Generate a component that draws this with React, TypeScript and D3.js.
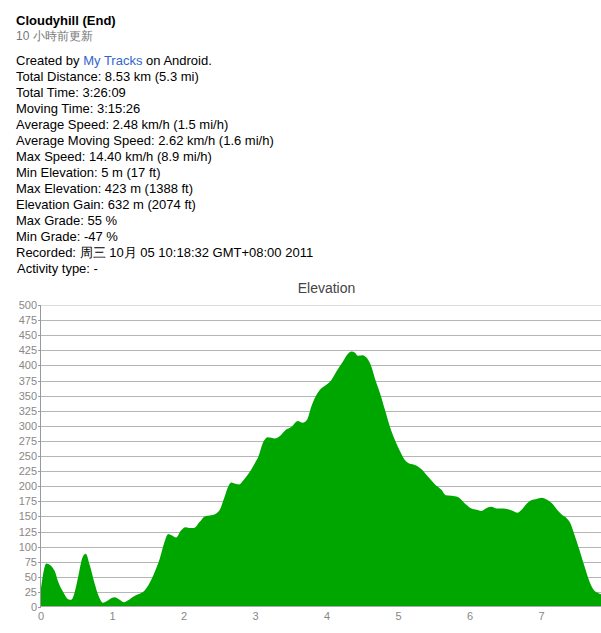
import React from "react";
import * as d3 from "d3";

const infoLines: string[] = [
  "Total Distance: 8.53 km (5.3 mi)",
  "Total Time: 3:26:09",
  "Moving Time: 3:15:26",
  "Average Speed: 2.48 km/h (1.5 mi/h)",
  "Average Moving Speed: 2.62 km/h (1.6 mi/h)",
  "Max Speed: 14.40 km/h (8.9 mi/h)",
  "Min Elevation: 5 m (17 ft)",
  "Max Elevation: 423 m (1388 ft)",
  "Elevation Gain: 632 m (2074 ft)",
  "Max Grade: 55 %",
  "Min Grade: -47 %",
  "Recorded: 周三 10月 05 10:18:32 GMT+08:00 2011",
  "Activity type: -",
];

const distanceKm: number[] = [
  0, 0.075, 0.19, 0.24, 0.31, 0.38, 0.42, 0.46, 0.52, 0.58, 0.625, 0.68, 0.75, 0.8, 0.87, 0.91, 0.96,
  1.03, 1.1, 1.16, 1.22, 1.29, 1.36, 1.4, 1.46, 1.52, 1.59, 1.66, 1.72, 1.78, 1.82, 1.89, 1.96, 2.02,
  2.07, 2.14, 2.22, 2.29, 2.38, 2.45, 2.5, 2.56, 2.62, 2.66, 2.72, 2.77, 2.83, 2.92, 2.99, 3.04, 3.1,
  3.17, 3.27, 3.34, 3.42, 3.5, 3.59, 3.66, 3.72, 3.78, 3.85, 3.91, 3.99, 4.06, 4.13, 4.22, 4.29, 4.34,
  4.39, 4.43, 4.5, 4.55, 4.61, 4.67, 4.74, 4.81, 4.88, 4.95, 5.02, 5.09, 5.13, 5.23, 5.32, 5.41, 5.51,
  5.6, 5.66, 5.74, 5.83, 5.93, 6.02, 6.09, 6.16, 6.23, 6.3, 6.37, 6.46, 6.53, 6.6, 6.66, 6.72, 6.79,
  6.86, 6.93, 7.0, 7.07, 7.14, 7.21, 7.28, 7.35, 7.4, 7.46, 7.53, 7.6, 7.67, 7.73, 7.79, 7.86,
];

const elevationM: number[] = [
  32, 72, 60, 42, 25, 13, 12, 20, 50, 82, 88, 70, 39, 20, 7, 9, 13,
  16, 12, 8, 11, 17, 21, 23, 29, 40, 58, 80, 105, 121, 119, 115, 127, 132,
  131, 131, 141, 150, 152, 155, 161, 180, 200, 206, 204, 203, 210, 224, 238, 249, 271,
  281, 279, 283, 293, 298, 308, 305, 310, 332, 351, 361, 368, 376, 390, 406, 419, 423,
  421, 416, 417, 413, 401, 378, 354, 326, 298, 276, 258, 243, 239, 235, 228, 216, 203,
  194, 185, 184, 182, 171, 163, 161, 159, 164, 166, 163, 163, 162, 159, 156, 161, 171,
  177, 179, 181, 178, 172, 162, 153, 147, 139, 119, 94, 67, 42, 28, 23, 20,
];

const yTicks: number[] = d3.range(0, 501, 25);
const xTicks: number[] = [0, 1, 2, 3, 4, 5, 6, 7];

const W = 601;
const H = 633;
const FONT = "Arial, 'Liberation Sans', sans-serif";

export default function App() {
  const x = d3.scaleLinear().domain([0, 7.83]).range([41, 601]);
  const y = d3.scaleLinear().domain([0, 500]).range([607, 305]);
  const pts = distanceKm.map((d, i) => [d, elevationM[i]] as [number, number]);
  const area = d3
    .area<[number, number]>()
    .x((d) => x(d[0]))
    .y0(y(0))
    .y1((d) => y(d[1]))
    .curve(d3.curveMonotoneX);

  return (
    <svg
      width={W}
      height={H}
      style={{ position: "absolute", left: 0, top: 0, background: "#fff" }}
      fontFamily={FONT}
    >
      <rect width={W} height={H} fill="#fff" />
      <text x={16} y={25} fontSize={13} fontWeight="bold" fill="#000">
        Cloudyhill (End)
      </text>
      <text x={16} y={40} fontSize={12} fill="#777">
        10 小時前更新
      </text>
      <text x={16} y={65} fontSize={13} fill="#000">
        Created by <tspan fill="#3366cc">My Tracks</tspan> on Android.
      </text>
      {infoLines.map((t, i) => (
        <text key={i} x={i === infoLines.length - 1 ? 17 : 16} y={81 + i * 16} fontSize={13} fill="#000">
          {t}
        </text>
      ))}

      <text x={326.5} y={293} fontSize={14} fill="#444" textAnchor="middle">
        Elevation
      </text>

      {yTicks.map((t) => (
        <g key={t}>
          {t > 0 && (
            <line
              x1={41}
              x2={601}
              y1={Math.round(y(t)) + 0.5}
              y2={Math.round(y(t)) + 0.5}
              stroke={t === 500 ? "#dddddd" : "#b5b5b5"}
              strokeWidth={1}
            />
          )}
          <line x1={38} x2={41} y1={Math.round(y(t)) + 0.5} y2={Math.round(y(t)) + 0.5} stroke="#999" />
          <text x={37} y={y(t) + 4} fontSize={11} fill="#888" textAnchor="end">
            {t}
          </text>
        </g>
      ))}

      <path d={area(pts) || ""} fill="#00a600" />

      <line x1={41} x2={601} y1={606.5} y2={606.5} stroke="#aaa" />
      <line x1={40.5} x2={40.5} y1={305} y2={607} stroke="#999" />

      {xTicks.map((t) => (
        <text key={t} x={x(t)} y={620} fontSize={11} fill="#888" textAnchor="middle">
          {t}
        </text>
      ))}
    </svg>
  );
}
